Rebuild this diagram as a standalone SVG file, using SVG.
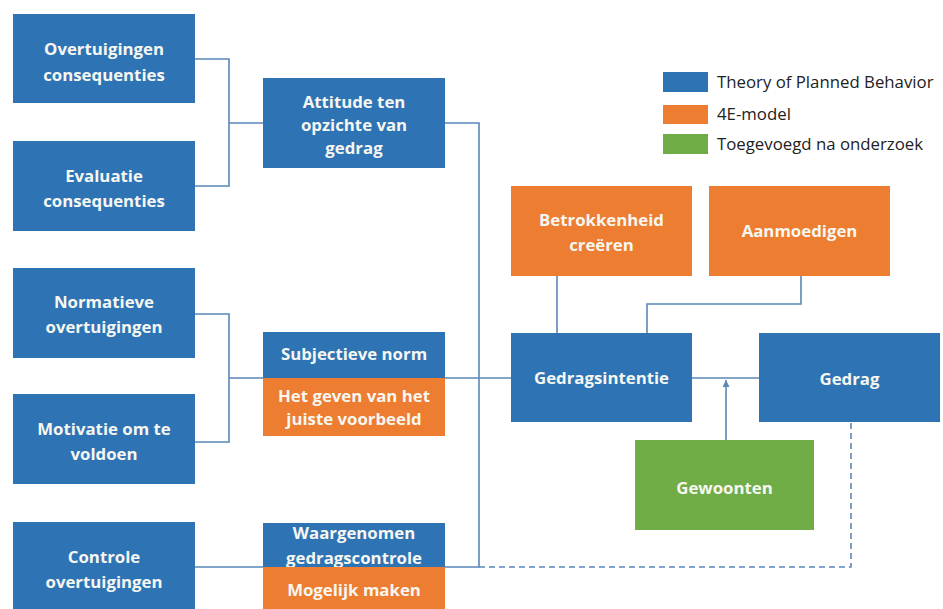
<svg xmlns="http://www.w3.org/2000/svg" width="943" height="609" viewBox="0 0 943 609">
<defs>
<style>
.b{fill:#2e74b5}.o{fill:#ed7d31}.g{fill:#70ad47}
.t{font-family:"Open Sans","Liberation Sans",sans-serif;font-weight:700;font-size:16.8px;fill:#f7f7f2;text-anchor:middle}
.l{font-family:"Open Sans","Liberation Sans",sans-serif;font-size:16.8px;fill:#222}
.c{fill:none;stroke:#5b87b9;stroke-width:1.6}
.d{stroke-dasharray:6 4}
</style>
<marker id="ah" viewBox="0 0 10 10" refX="10" refY="5" markerWidth="8" markerHeight="7" orient="auto" markerUnits="userSpaceOnUse">
<path d="M0,0 L10,5 L0,10 Z" fill="#5b87b9"/>
</marker>
</defs>
<rect width="943" height="609" fill="#fff"/>
<g id="connectors">
<path class="c" d="M195,59 H229 V186 H195 M229,123 H263"/>
<path class="c" d="M195,314 H229 V442 H195 M229,378 H263"/>
<path class="c" d="M445,123 H479 V567 H445"/>
<path class="c" d="M445,378 H511"/>
<path class="c" d="M195,567 H263"/>
<path class="c d" d="M479,567 H851 V422"/>
<path class="c" d="M557,276 V333"/>
<path class="c" d="M801,276 V304 H647 V333"/>
<path class="c" d="M692,378 H759"/>
<path class="c" d="M726,440 V380" marker-end="url(#ah)"/>
</g>
<g id="overtuigingen-consequenties"><rect class="b" x="13" y="14" width="182" height="89"/><text class="t" x="104" y="55">Overtuigingen</text><text class="t" x="104" y="81">consequenties</text></g>
<g id="evaluatie-consequenties"><rect class="b" x="13" y="141" width="182" height="90"/><text class="t" x="104" y="182">Evaluatie</text><text class="t" x="104" y="207">consequenties</text></g>
<g id="normatieve-overtuigingen"><rect class="b" x="13" y="268" width="182" height="90"/><text class="t" x="104" y="308">Normatieve</text><text class="t" x="104" y="333">overtuigingen</text></g>
<g id="motivatie"><rect class="b" x="13" y="394" width="182" height="90"/><text class="t" x="104" y="435">Motivatie om te</text><text class="t" x="104" y="460">voldoen</text></g>
<g id="controle-overtuigingen"><rect class="b" x="13" y="522" width="182" height="90"/><text class="t" x="104" y="563">Controle</text><text class="t" x="104" y="588">overtuigingen</text></g>
<g id="attitude"><rect class="b" x="263" y="78" width="182" height="90"/><text class="t" x="354" y="108">Attitude ten</text><text class="t" x="354" y="131">opzichte van</text><text class="t" x="354" y="154">gedrag</text></g>
<g id="subjectieve-norm"><rect class="b" x="263" y="332" width="182" height="46"/><text class="t" x="354" y="360">Subjectieve norm</text></g>
<g id="juiste-voorbeeld"><rect class="o" x="263" y="378" width="182" height="58"/><text class="t" x="354" y="402">Het geven van het</text><text class="t" x="354" y="425">juiste voorbeeld</text></g>
<g id="waargenomen-gedragscontrole"><rect class="b" x="263" y="523" width="182" height="44"/><text class="t" x="354" y="539">Waargenomen</text><text class="t" x="354" y="564">gedragscontrole</text></g>
<g id="mogelijk-maken"><rect class="o" x="263" y="567" width="182" height="45"/><text class="t" x="354" y="596">Mogelijk maken</text></g>
<g id="betrokkenheid"><rect class="o" x="511" y="186" width="181" height="90"/><text class="t" x="601.5" y="226">Betrokkenheid</text><text class="t" x="601.5" y="251">creëren</text></g>
<g id="aanmoedigen"><rect class="o" x="709" y="186" width="181" height="90"/><text class="t" x="799.5" y="237">Aanmoedigen</text></g>
<g id="gedragsintentie"><rect class="b" x="511" y="333" width="181" height="89"/><text class="t" x="601.5" y="384">Gedragsintentie</text></g>
<g id="gedrag"><rect class="b" x="759" y="333" width="181" height="89"/><text class="t" x="849.5" y="385">Gedrag</text></g>
<g id="gewoonten"><rect class="g" x="635" y="440" width="179" height="90"/><text class="t" x="724.5" y="494">Gewoonten</text></g>
<g id="legend">
<rect class="b" x="663" y="72" width="45" height="20"/><text class="l" x="717" y="88">Theory of Planned Behavior</text>
<rect class="o" x="663" y="105" width="45" height="19"/><text class="l" x="717" y="120">4E-model</text>
<rect class="g" x="663" y="134" width="45" height="20"/><text class="l" x="717" y="150">Toegevoegd na onderzoek</text>
</g>
</svg>
